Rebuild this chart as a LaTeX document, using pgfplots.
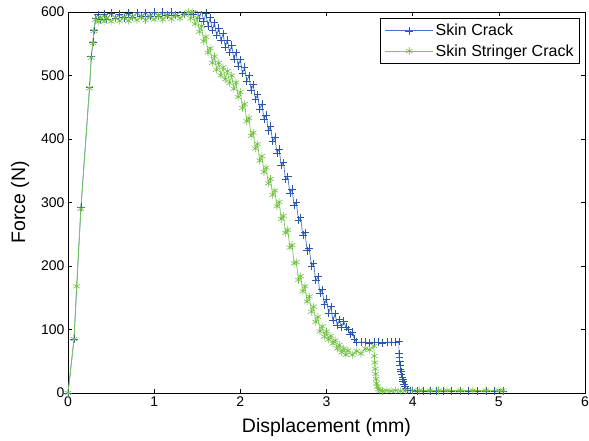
\documentclass[border=0pt]{standalone}
\usepackage{pgfplots}
\pgfplotsset{compat=1.18}
\usepackage{fontspec}
\setmainfont{Liberation Sans}
\definecolor{cblue}{RGB}{43,87,170}
\definecolor{cgreen}{RGB}{112,191,65}
\definecolor{lblue}{RGB}{70,115,200}
\definecolor{lgreen}{RGB}{120,205,80}
\begin{document}
\begin{tikzpicture}
\path[use as bounding box] (-68pt,-48pt) rectangle (521pt,393pt);
\begin{axis}[
  at={(0,0)}, anchor=south west,
  width=517pt, height=381pt, scale only axis,
  xmin=0, xmax=6, ymin=0, ymax=600,
  xtick={0,1,2,3,4,5,6}, ytick={0,100,200,300,400,500,600},
  tick align=inside, major tick length=4pt,
  tick style={black, line width=0.6pt},
  axis line style={black, line width=0.8pt},
  /pgf/number format/assume math mode=true,
  tick label style={font=\fontsize{14}{14}\selectfont},
  label style={font=\fontsize{19.5}{19.5}\selectfont},
  xlabel={Displacement (mm)}, ylabel={Force (N)},
  xlabel style={yshift=-5pt},
  ylabel style={yshift=5pt},
  legend style={at={(0.99,0.984)}, anchor=north east, draw=black, line width=0.6pt,
    font=\fontsize{16}{16}\selectfont, inner xsep=4pt, inner ysep=4pt, row sep=3pt},
  legend cell align=left,
]
\addplot[color=lblue, line width=0.7pt, mark=+, mark size=3.8pt, mark options={line width=0.6pt, draw=cblue},
  legend image code/.code={\draw[lblue, line width=1pt] (0pt,0pt) -- (48pt,0pt);
    \draw[cblue, line width=0.8pt] plot[mark=+, mark size=3.8pt] coordinates {(24pt,0pt)};}] coordinates {
(0,0) (0.07,85) (0.15,293) (0.25,482) (0.27,530) (0.29,553) (0.30,571) (0.32,590)
(0.35,596) (0.38,588) (0.42,597) (0.45,589) (0.5,598) (0.55,590) (0.6,597) (0.65,591)
(0.7,598) (0.75,592) (0.8,599) (0.85,593) (0.9,599) (0.95,593) (1.0,600) (1.05,594)
(1.1,600) (1.15,595) (1.2,600) (1.25,595) (1.3,601) (1.35,596) (1.4,601) (1.45,597)
(1.500,603) (1.525,590) (1.550,603) (1.575,585) (1.600,598) (1.625,578) (1.650,591)
(1.675,571) (1.700,583) (1.725,563) (1.750,575) (1.775,555) (1.800,566) (1.825,545)
(1.850,556) (1.875,536) (1.900,548) (1.925,526) (1.950,536) (1.975,515) (2.000,525)
(2.025,503) (2.050,513) (2.075,491) (2.100,500) (2.125,477) (2.150,486) (2.175,462)
(2.200,470) (2.225,447) (2.250,455) (2.275,431) (2.300,438) (2.325,413) (2.350,420)
(2.375,396) (2.400,403) (2.425,378) (2.450,384) (2.475,358) (2.500,363) (2.525,336)
(2.550,341) (2.575,315) (2.600,321) (2.625,295) (2.650,300) (2.675,272) (2.700,276)
(2.725,249) (2.750,253) (2.775,224) (2.800,228) (2.825,200) (2.850,204) (2.875,177)
(2.900,183) (2.925,157) (2.950,163) (2.975,139) (3.000,148) (3.025,126) (3.050,136)
(3.075,114) (3.100,125) (3.125,106) (3.150,116) (3.175,103) (3.20,113) (3.225,104)
(3.25,100) (3.275,92) (3.30,96) (3.325,85) (3.35,80) (3.40,80) (3.45,80) (3.50,79)
(3.55,80) (3.60,80) (3.65,79) (3.70,80) (3.75,80) (3.80,80) (3.84,81)
(3.84,62) (3.845,56) (3.85,50) (3.855,44) (3.86,38) (3.865,34) (3.87,30) (3.88,25) (3.885,21) (3.89,18) (3.90,14)
(3.91,11) (3.92,8) (3.94,5) (3.97,4) (4.0,4) (4.05,3) (4.12,3) (4.2,3) (4.28,3)
(4.36,3) (4.45,3) (4.55,3) (4.65,3) (4.75,3) (4.85,3) (4.95,3) (5.05,3)
};
\addlegendentry{Skin Crack}
\addplot[color=lgreen, line width=0.7pt, mark=asterisk, mark size=3.8pt, mark options={line width=0.6pt, draw=cgreen},
  legend image code/.code={\draw[lgreen, line width=1pt] (0pt,0pt) -- (48pt,0pt);
    \draw[cgreen, line width=0.8pt] plot[mark=asterisk, mark size=3.8pt] coordinates {(24pt,0pt)};}] coordinates {
(0,0) (0.07,85) (0.10,168) (0.15,290) (0.25,480) (0.27,528) (0.29,551) (0.30,570) (0.32,588)
(0.35,584) (0.38,591) (0.42,585) (0.45,591) (0.5,585) (0.55,591) (0.6,586) (0.65,592)
(0.7,586) (0.75,592) (0.8,587) (0.85,593) (0.9,587) (0.95,593) (1.0,588) (1.05,594)
(1.1,588) (1.15,594) (1.2,589) (1.25,595) (1.3,590) (1.35,596)
(1.400,600) (1.425,590) (1.450,600) (1.475,581) (1.500,591) (1.525,569) (1.550,578)
(1.575,554) (1.600,561) (1.625,536) (1.650,543) (1.675,520) (1.700,530) (1.725,509)
(1.750,520) (1.775,500) (1.800,513) (1.825,494) (1.850,507) (1.875,488) (1.900,500)
(1.925,479) (1.950,489) (1.975,466) (2.000,474) (2.025,449) (2.050,455) (2.075,428)
(2.100,433) (2.125,405) (2.150,410) (2.175,385) (2.200,392) (2.225,366) (2.250,373)
(2.275,348) (2.300,355) (2.325,330) (2.350,337) (2.375,312) (2.400,319) (2.425,294)
(2.450,301) (2.475,274) (2.500,279) (2.525,252) (2.550,257) (2.575,229) (2.600,233)
(2.625,204) (2.650,206) (2.675,178) (2.700,184) (2.725,160) (2.750,168) (2.775,144)
(2.800,152) (2.825,128) (2.850,136) (2.875,112) (2.900,120) (2.925,97) (2.950,105)
(2.975,89) (3.000,97) (3.025,84) (3.05,90) (3.075,78) (3.10,83) (3.125,70) (3.15,76)
(3.175,64) (3.20,70) (3.225,60) (3.25,67) (3.30,60) (3.35,66) (3.40,62) (3.45,70)
(3.50,68) (3.55,74)
(3.555,58) (3.56,48) (3.565,38) (3.57,30) (3.575,22) (3.58,15) (3.59,10) (3.60,6)
(3.62,4) (3.65,3) (3.70,4) (3.75,3) (3.80,4) (3.86,3) (3.92,4) (4.0,4) (4.08,4)
(4.2,4) (4.3,4) (4.4,4) (4.55,4) (4.7,4) (4.85,4) (5.0,4) (5.05,4)
};
\addlegendentry{Skin Stringer Crack}
\end{axis}
\end{tikzpicture}
\end{document}
